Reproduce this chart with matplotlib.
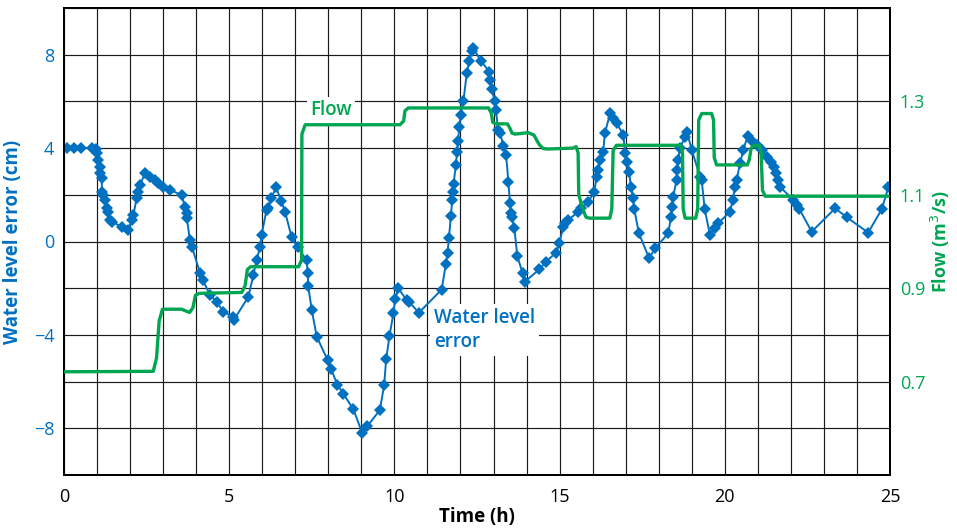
import matplotlib
matplotlib.use('Agg')
import matplotlib.pyplot as plt
from matplotlib.ticker import MultipleLocator, FixedLocator

plt.rcParams['font.family'] = ['Open Sans', 'DejaVu Sans']

# Water level error (cm) vs time (h)
wl_time = [0.10, 0.30, 0.50, 0.85, 0.97, 1.00, 1.04, 1.08, 1.10, 1.14, 1.15, 1.19, 1.24, 1.29,
           1.34, 1.39, 1.44, 1.75, 1.95, 2.05, 2.10, 2.20, 2.25, 2.30, 2.45, 2.60, 2.75, 2.85,
           3.01, 3.21, 3.56, 3.66, 3.71, 3.72, 3.81, 3.87, 4.12, 4.20, 4.42, 4.62, 4.82, 5.10,
           5.14, 5.58, 5.73, 5.83, 5.93, 5.98, 6.13, 6.18, 6.27, 6.42, 6.57, 6.69, 6.89, 7.07,
           7.34, 7.38, 7.39, 7.50, 7.65, 7.98, 8.08, 8.27, 8.45, 8.76, 9.03, 9.18, 9.56, 9.69,
           9.75, 9.85, 9.97, 10.02, 10.12, 10.37, 10.44, 10.74, 11.43, 11.56, 11.61, 11.65,
           11.71, 11.75, 11.78, 11.79, 11.86, 11.90, 11.93, 11.96, 12.01, 12.09, 12.19, 12.27,
           12.34, 12.39, 12.61, 12.87, 12.89, 12.94, 13.04, 13.07, 13.14, 13.20, 13.30, 13.38,
           13.45, 13.50, 13.52, 13.55, 13.63, 13.72, 13.88, 13.95, 14.39, 14.59, 14.89, 14.99,
           15.11, 15.16, 15.26, 15.57, 15.65, 15.87, 16.05, 16.12, 16.17, 16.22, 16.32, 16.37,
           16.53, 16.63, 16.73, 16.93, 16.98, 17.03, 17.10, 17.16, 17.23, 17.26, 17.40, 17.71,
           17.89, 18.29, 18.37, 18.41, 18.44, 18.54, 18.55, 18.59, 18.64, 18.80, 18.85, 19.00,
           19.25, 19.30, 19.39, 19.55, 19.70, 19.80, 20.16, 20.24, 20.31, 20.36, 20.46, 20.56,
           20.69, 20.81, 20.97, 21.12, 21.27, 21.39, 21.49, 21.55, 21.62, 21.67, 22.07, 22.18,
           22.26, 22.63, 23.34, 23.69, 24.34, 24.75, 24.95]
wl_error = [4.0, 4.0, 4.0, 4.0, 3.95, 3.78, 3.49, 3.21, 2.92, 2.71, 2.13, 1.99, 1.78, 1.42,
            1.28, 0.92, 0.85, 0.63, 0.49, 0.92, 1.14, 1.85, 2.13, 2.42, 2.92, 2.78, 2.64, 2.49,
            2.35, 2.21, 1.99, 1.49, 1.21, 0.99, 0.06, -0.22, -1.36, -1.65, -2.29, -2.58, -3.01, -3.22,
            -3.36, -2.37, -1.44, -0.79, -0.25, 0.28, 1.35, 1.42, 1.85, 2.32, 1.75, 1.28, 0.18, -0.25,
            -0.79, -1.36, -1.91, -2.94, -4.08, -5.08, -5.44, -6.13, -6.51, -7.19, -8.22, -7.91, -7.22, -6.15,
            -5.05, -4.05, -3.08, -2.48, -2.01, -2.51, -2.58, -3.05, -2.06, -0.95, -0.48, 0.14,
            1.09, 1.78, 2.11, 2.45, 3.28, 3.85, 4.31, 4.92, 5.42, 6.02, 7.21, 7.75,
            8.14, 8.28, 7.75, 7.28, 6.92, 6.52, 6.02, 5.64, 4.78, 4.64, 4.09, 3.71,
            2.56, 1.64, 1.21, 1.06, 0.57, -0.62, -1.36, -1.72, -1.19, -0.86, -0.48, -0.08,
            0.63, 0.78, 0.92, 1.28, 1.42, 1.71, 2.13, 2.78, 3.06, 3.49, 3.85, 4.64,
            5.49, 5.28, 5.07, 4.56, 3.78, 3.42, 2.99, 2.35, 1.85, 1.38, 0.35, -0.72,
            -0.29, 0.35, 1.06, 1.49, 1.92, 2.64, 3.06, 3.49, 3.99, 4.49, 4.71, 3.92,
            2.78, 2.64, 1.40, 0.28, 0.57, 0.78, 1.28, 1.78, 2.35, 2.64, 3.35, 3.92,
            4.52, 4.32, 4.14, 3.92, 3.63, 3.42, 3.21, 2.92, 2.64, 2.35, 1.78, 1.56,
            1.38, 0.42, 1.42, 1.04, 0.38, 1.38, 2.32]

# Flow (m3/s) vs time (h)
flow_time = [0.00, 2.70, 2.80, 2.88, 2.98, 3.56, 3.80, 3.90, 3.98, 4.10, 5.38, 5.48, 5.55, 5.65,
             7.10, 7.19, 7.20, 7.30, 10.17, 10.28, 10.32, 10.42, 12.85, 12.93, 12.98, 13.07,
             13.42, 13.50, 13.56, 13.65, 14.05, 14.22, 14.38, 14.50, 14.66, 15.40, 15.50, 15.56,
             15.58, 15.70, 15.80, 15.90, 16.52, 16.58, 16.62, 16.72, 18.66, 18.72, 18.74, 18.80,
             19.12, 19.18, 19.21, 19.30, 19.60, 19.66, 19.68, 19.75, 20.68, 20.74, 20.80, 20.88,
             21.04, 21.10, 21.14, 21.22, 24.95]
flow_value = [0.721, 0.722, 0.750, 0.830, 0.855, 0.855, 0.848, 0.858, 0.885, 0.889, 0.891, 0.905,
              0.940, 0.946, 0.946, 0.960, 1.230, 1.250, 1.250, 1.258, 1.280, 1.286, 1.286, 1.275,
              1.255, 1.252, 1.252, 1.242, 1.232, 1.230, 1.233, 1.228, 1.208, 1.199, 1.198, 1.200,
              1.203, 1.190, 1.100, 1.070, 1.052, 1.050, 1.050, 1.070, 1.195, 1.206, 1.206, 1.190,
              1.070, 1.050, 1.050, 1.070, 1.260, 1.274, 1.274, 1.260, 1.180, 1.164, 1.164, 1.175,
              1.200, 1.206, 1.206, 1.190, 1.110, 1.097, 1.097]

x_ticks = [0, 5, 10, 15, 20, 25]
wl_ticks = [-8, -4, 0, 4, 8]
flow_ticks = [0.7, 0.9, 1.1, 1.3]

BLUE = '#0070C0'
GREEN = '#00A651'

fig = plt.figure(figsize=(9.57, 5.31), dpi=100)
ax = fig.add_axes([64 / 957, 1 - 475 / 531, 826 / 957, 467 / 531])
ax2 = ax.twinx()

ax.set_xlim(0, 25)
ax.set_ylim(-10, 10)
ax2.set_ylim(0.5, 1.5)

ax.xaxis.set_major_locator(FixedLocator(x_ticks))
ax.xaxis.set_minor_locator(MultipleLocator(1))
ax.yaxis.set_major_locator(FixedLocator(wl_ticks))
ax.yaxis.set_minor_locator(MultipleLocator(2))
ax2.yaxis.set_major_locator(FixedLocator(flow_ticks))
ax2.yaxis.set_minor_locator(FixedLocator([]))

ax.set_axisbelow(True)
ax.grid(True, which='both', color='#1a1a1a', linewidth=0.85)

ax.plot(wl_time, wl_error, color=BLUE, linewidth=1.4, marker='D', markersize=6.3,
        markeredgewidth=0, zorder=3)
ax2.plot(flow_time, flow_value, color=GREEN, linewidth=2.4, solid_joinstyle='round',
         solid_capstyle='round', zorder=3)

for a in (ax, ax2):
    for s in a.spines.values():
        s.set_linewidth(1.4)
        s.set_color('black')

ax.tick_params(axis='both', which='both', length=0)
ax2.tick_params(axis='both', which='both', length=0)
ax.tick_params(axis='x', labelsize=13, pad=9, colors='black')
ax.tick_params(axis='y', labelsize=13, pad=7, labelcolor=BLUE)
ax2.tick_params(axis='y', labelsize=13, pad=7, labelcolor=GREEN)

ax.set_xticklabels([str(v) for v in x_ticks])
ax.set_yticklabels(['\u2212' + str(-v) if v < 0 else str(v) for v in wl_ticks])
ax2.set_yticklabels([f'{v:.1f}' for v in flow_ticks])

ax.set_xlabel('Time (h)', fontsize=13.5, fontweight='bold', labelpad=1)
ax.set_ylabel('Water level error (cm)', fontsize=13.5, fontweight='bold', color=BLUE, labelpad=8)
ax2.set_ylabel('Flow (m$^3$/s)', fontsize=13, fontweight='bold', color=GREEN, labelpad=3)

ax2.text(7.45, 1.281, 'Flow', fontsize=13.5, fontweight='semibold', color=GREEN,
         ha='left', va='center', zorder=1.5,
         bbox=dict(facecolor='white', edgecolor='none', pad=2.5))
ax.text(11.2, -3.8, 'Water level\nerror', fontsize=13.5, fontweight='semibold', color=BLUE,
        ha='left', va='center', linespacing=1.25, zorder=1.5,
        bbox=dict(facecolor='white', edgecolor='none', pad=3))

fig.savefig('out.png', dpi=100)
